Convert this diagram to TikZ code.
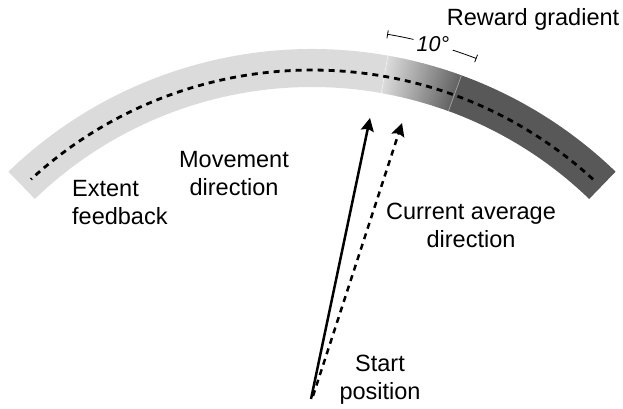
\documentclass[tikz,border=0pt]{standalone}
\usepackage{fontspec}
\setmainfont{Liberation Sans}
\usetikzlibrary{arrows.meta}

\definecolor{bandlight}{RGB}{219,219,219}
\definecolor{banddark}{RGB}{88,88,88}

\begin{document}
\begin{tikzpicture}[x=1pt, y=1pt,
    txt/.style={font=\fontsize{23.5}{28}\selectfont, inner sep=0pt, align=center},
    dirarrow/.style={line width=2.5pt, -{Stealth[length=13pt, width=13pt, inset=2pt]}},
    dashline/.style={dash pattern=on 6pt off 5pt}]
    \useasboundingbox (0,0) rectangle (623,408);
    \coordinate (O) at (312,-78);

    \begin{scope}[shift={(O)}]
    % Reward gradient, 10 degrees wide
    \foreach \i in {0,...,39} {
        \pgfmathsetmacro{\a}{80-\i*0.25}
        \pgfmathsetmacro{\b}{\a-0.35}
        \pgfmathsetmacro{\p}{\i*90/39}
        \fill[banddark!\p!bandlight] (\a:399) arc[start angle=\a, end angle=\b, radius=399]
            -- (\b:437) arc[start angle=\b, end angle=\a, radius=437] -- cycle;
    }

    % Band
    \fill[bandlight] (80:399) arc[start angle=80, end angle=134, radius=399]
        -- (134:437) arc[start angle=134, end angle=80, radius=437] -- cycle;
    \fill[banddark] (46:399) arc[start angle=46, end angle=70, radius=399]
        -- (70:437) arc[start angle=70, end angle=46, radius=437] -- cycle;
    \draw[white, opacity=0.5, line width=0.6pt] (80:399) -- (80:437);
    \draw[white, opacity=0.5, line width=0.6pt] (70:399) -- (70:437);

    % Target path
    \draw[line width=2.8pt, dashline] (47.5:416) arc[start angle=47.5, end angle=132.5, radius=416];

    % Scale bar
    \node[txt, font=\fontsize{21.5}{26}\selectfont\itshape] (ten) at (74.7:458) {10°};
    \draw[line width=0.8pt] (80.5:458) arc[start angle=80.5, end angle=77.2, radius=458];
    \draw[line width=0.8pt] (72.1:458) arc[start angle=72.1, end angle=69, radius=458];
    \draw[line width=0.8pt] (80.5:454) -- (80.5:462);
    \draw[line width=0.8pt] (69:454) -- (69:462);
    \end{scope}

    % Directions
    \coordinate (start) at (311,9);
    \coordinate (startavg) at (313,12);
    \coordinate (tipmove) at (370,290);
    \coordinate (tipavg) at (402,285);
    \draw[dirarrow] (start) -- (tipmove);
    \draw[dirarrow, dashline] (startavg) -- (tipavg);

    % Labels
    \node[txt, align=left, anchor=west] (extent) at (72,205) {Extent\\feedback};
    \node[txt] (movement) at (234,234) {Movement\\direction};
    \node[txt] (average) at (471,183) {Current average\\direction};
    \node[txt] (startlbl) at (380,28) {Start\\position};
    \node[txt] (reward) at (533,389) {Reward gradient};
\end{tikzpicture}
\end{document}
